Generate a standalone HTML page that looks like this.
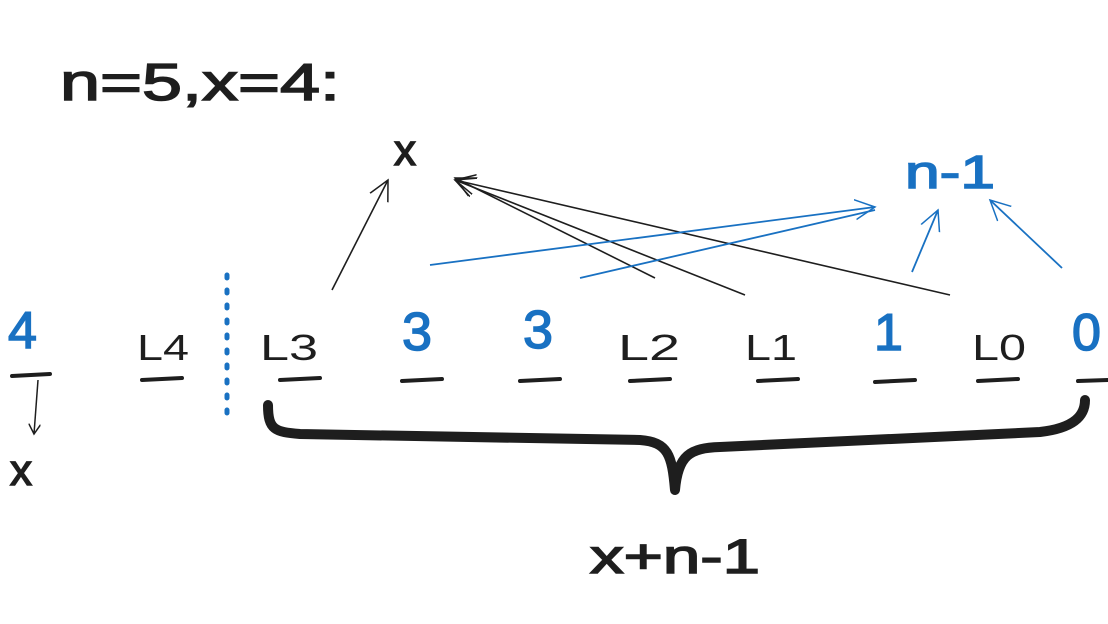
<!DOCTYPE html>
<html><head><meta charset="utf-8"><style>
html,body{margin:0;padding:0;background:#fff;}
svg{display:block}
text{font-family:"Liberation Sans",sans-serif;}
</style></head><body>
<svg width="1108" height="624" viewBox="0 0 1108 624" xmlns="http://www.w3.org/2000/svg">
<defs>
<marker id="ab" markerWidth="12" markerHeight="12" refX="10" refY="6" orient="auto" markerUnits="userSpaceOnUse"><path d="M0,0 L10,6 L0,12" fill="none" stroke="#1e1e1e" stroke-width="1.5"/></marker>
<marker id="au" markerWidth="24" markerHeight="24" refX="20" refY="12" orient="auto" markerUnits="userSpaceOnUse"><path d="M0,2 L20,12 L0,22" fill="none" stroke="#1971c2" stroke-width="1.5"/></marker>
<marker id="ak" markerWidth="24" markerHeight="24" refX="20" refY="12" orient="auto" markerUnits="userSpaceOnUse"><path d="M0,2 L20,12 L0,22" fill="none" stroke="#1e1e1e" stroke-width="1.5"/></marker>
</defs>
<g stroke-width="1.5">
<text x="60" y="100" font-size="52" fill="#1e1e1e" stroke="#1e1e1e" textLength="280" lengthAdjust="spacingAndGlyphs">n=5,x=4:</text>
<text x="394" y="165" font-size="44" fill="#1e1e1e" stroke="#1e1e1e">x</text>
<text x="905" y="188" font-size="46" fill="#1971c2" stroke="#1971c2" textLength="90" lengthAdjust="spacingAndGlyphs">n-1</text>

<text x="8" y="348" font-size="52" fill="#1971c2" stroke="#1971c2">4</text>
<text x="137" y="360" font-size="36" fill="#1e1e1e" textLength="52" lengthAdjust="spacingAndGlyphs">L4</text>
<text x="260" y="360" font-size="36" fill="#1e1e1e" textLength="58" lengthAdjust="spacingAndGlyphs">L3</text>
<text x="402" y="350" font-size="54" fill="#1971c2" stroke="#1971c2">3</text>
<text x="523" y="348" font-size="54" fill="#1971c2" stroke="#1971c2">3</text>
<text x="618" y="360" font-size="36" fill="#1e1e1e" textLength="62" lengthAdjust="spacingAndGlyphs">L2</text>
<text x="745" y="360" font-size="36" fill="#1e1e1e" textLength="52" lengthAdjust="spacingAndGlyphs">L1</text>
<text x="874" y="350" font-size="52" fill="#1971c2" stroke="#1971c2">1</text>
<text x="972" y="360" font-size="36" fill="#1e1e1e" textLength="54" lengthAdjust="spacingAndGlyphs">L0</text>
<text x="1072" y="350" font-size="52" fill="#1971c2" stroke="#1971c2">0</text>
</g>
<line x1="227" y1="275" x2="227" y2="422" stroke="#1971c2" stroke-width="5" stroke-dasharray="3,12" stroke-linecap="round"/>

<g stroke="#1e1e1e" stroke-width="4" stroke-linecap="round">
<line x1="12" y1="376" x2="50" y2="374"/>
<line x1="142" y1="380" x2="182" y2="378"/>
<line x1="280" y1="380" x2="320" y2="378"/>
<line x1="402" y1="381" x2="442" y2="379"/>
<line x1="520" y1="381" x2="560" y2="379"/>
<line x1="630" y1="381" x2="670" y2="379"/>
<line x1="758" y1="381" x2="798" y2="379"/>
<line x1="875" y1="382" x2="915" y2="380"/>
<line x1="978" y1="381" x2="1018" y2="379"/>
<line x1="1078" y1="381" x2="1108" y2="380"/>
</g>
<line x1="38" y1="380" x2="34" y2="434" stroke="#1e1e1e" stroke-width="1.5" marker-end="url(#ab)"/>
<text x="10" y="485" font-size="44" fill="#1e1e1e" stroke="#1e1e1e" stroke-width="1.5">x</text>

<path d="M268,405 C268,430 275,432 300,434 L640,440 C668,442 672,455 675,490 C678,455 690,448 720,447 L1040,432 C1075,428 1085,415 1085,400" fill="none" stroke="#1e1e1e" stroke-width="10" stroke-linecap="round" stroke-linejoin="round"/>
<text x="590" y="573" font-size="48" fill="#1e1e1e" stroke="#1e1e1e" stroke-width="1.5" textLength="170" lengthAdjust="spacingAndGlyphs">x+n-1</text>

<g stroke="#1e1e1e" stroke-width="1.6" fill="none">
<line x1="332" y1="290" x2="388" y2="180" marker-end="url(#ak)"/>
<line x1="655" y1="278" x2="455" y2="178" marker-end="url(#ak)"/>
<line x1="745" y1="295" x2="455" y2="180" marker-end="url(#ak)"/>
<line x1="950" y1="295" x2="455" y2="180" marker-end="url(#ak)"/>
</g>
<g stroke="#1971c2" stroke-width="1.8" fill="none">
<line x1="430" y1="265" x2="875" y2="207" marker-end="url(#au)"/>
<line x1="580" y1="278" x2="875" y2="210"/>
<line x1="912" y1="272" x2="938" y2="210" marker-end="url(#au)"/>
<line x1="1062" y1="268" x2="990" y2="200" marker-end="url(#au)"/>
</g>
</svg>
</body></html>
